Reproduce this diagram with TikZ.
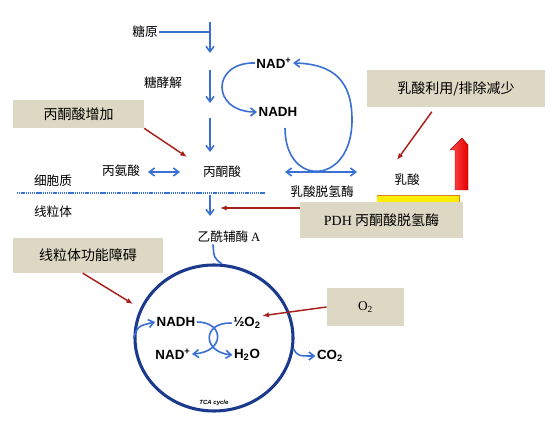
\documentclass[tikz,border=0pt]{standalone}
\usepackage{fontspec}
\setmainfont{Liberation Serif}
\newfontfamily\cjk{Noto Sans CJK SC}
\newfontfamily\arialf{Liberation Sans}
\usetikzlibrary{arrows.meta,shapes.geometric}
\definecolor{flowblue}{HTML}{3A6FD3}
\definecolor{cycleblue}{HTML}{1B3A8E}
\definecolor{hintred}{HTML}{A8201C}
\definecolor{notetan}{HTML}{DDD8C3}

\begin{document}
\begin{tikzpicture}[x=0.75pt,y=-0.75pt,
  lbl/.style={font=\cjk\fontsize{9.5}{10}\selectfont,inner sep=1pt},
  chem/.style={font=\arialf\bfseries\fontsize{10}{11}\selectfont,inner sep=1pt},
  note/.style={fill=notetan,font=\cjk\fontsize{10.5}{12}\selectfont,inner sep=2pt},
  flow/.style={draw=flowblue,line width=1.2pt,-{Straight Barb[length=4pt,width=6pt]}},
  hint/.style={draw=hintred,line width=1.1pt,-{Latex[length=5pt,width=4pt]}}]
\useasboundingbox (0,0) rectangle (554,424);
% cytosol
\node[lbl] (glycogen) at (145,32) {糖原};
\node[lbl] (glyco) at (163,83) {糖酵解};
\node[lbl] (pyr) at (222,172) {丙酮酸};
\node[lbl] (ala) at (121,171) {丙氨酸};
\node[lbl] (cyto) at (53,181) {细胞质};
\node[lbl] (mito) at (53,212) {线粒体};
\node[lbl] (accoa) at (229,237) {乙酰辅酶 \textrm{A}};
\node[lbl] (ldh) at (322,192) {乳酸脱氢酶};
\node[lbl] (lac) at (407,180) {乳酸};
\node[chem] (nadp) at (274,63) {NAD\textsuperscript{+}};
\node[chem] (nadh) at (278,112) {NADH};
% glycolysis chain
\foreach \n/\y in {0/22,1/53,2/70,3/103,4/118,5/152,6/195,7/216}
  \coordinate (c\n) at (210,\y);
\coordinate (gly) at (210,32);
\draw[flowblue,line width=1.2pt] (glycogen.east) -- (gly);
\draw[flow] (c0) -- (c1);
\draw[flow] (c2) -- (c3);
\draw[flow] (c4) -- (c5);
\draw[flow] (c6) -- (c7);
\draw[flow] (nadp.west) .. controls (211,62) and (211,112) .. (nadh.west);
\coordinate (loop0) at (285,128);
\draw[flow] (loop0) .. controls (285,188) and (352,186) .. (352,120)
  .. controls (352,82) and (335,64) .. (nadp.east);
\coordinate (ldhL) at (285,172);
\coordinate (ldhR) at (357,172);
\draw[flow,{Straight Barb[length=4pt,width=6pt]}-{Straight Barb[length=4pt,width=6pt]}] (ldhL) -- (ldhR);
\coordinate (ala1) at (148,172);
\coordinate (ala2) at (180,172);
\draw[flow,{Straight Barb[length=4pt,width=6pt]}-{Straight Barb[length=4pt,width=6pt]}] (ala1) -- (ala2);
% membrane
\draw[flowblue,line width=1.4pt,dash pattern=on 1pt off 0.6pt] (17,193) -- (265,193);
% lactate side
\fill[yellow!95!orange] (377,195) rectangle (459,203);
\draw[orange!50!brown,line width=0.7pt] (377,195) -- (459,195) -- (459,203);
\shade[left color=red!70,right color=red!90!black,draw=red!60!black,line width=0.3pt]
  (455,190) -- (455,150) -- (450,150) -- (462,138) -- (468,145) -- (468,190) -- cycle;
% notes
\node[note,minimum width=98pt,minimum height=21pt] (note1) at (78.5,114) {丙酮酸增加};
\node[note,minimum width=134pt,minimum height=28pt] (note2) at (456,88.5) {乳酸利用/排除减少};
\node[note,minimum width=122pt,minimum height=27pt] (note3) at (381.5,220) {\textrm{PDH} 丙酮酸脱氢酶};
\node[note,minimum width=112pt,minimum height=26pt] (note4) at (88,255.5) {线粒体功能障碍};
\node[note,minimum width=58pt,minimum height=28.5pt,font=\fontsize{10}{12}\selectfont] (note5) at (365.5,307) {O\textsubscript{2}};
% TCA cycle
\node[draw=cycleblue,line width=2.3pt,ellipse,minimum width=118.5pt,minimum height=109.5pt,inner sep=0pt] (tca) at (214,338) {};
\node[font=\arialf\bfseries\itshape\fontsize{4.5}{5}\selectfont] (tcalbl) at (214,403) {TCA cycle};
\node[chem] (nadh2) at (176,322) {NADH};
\node[chem] (nadp2) at (173,354) {NAD\textsuperscript{+}};
\node[chem] (half) at (247,323) {½O\textsubscript{2}};
\node[chem] (water) at (247,355) {H\textsubscript{2}O};
\node[chem] (co2) at (330,356) {CO\textsubscript{2}};
\draw[flowblue,line width=1.2pt] ([xshift=-12pt]accoa.south) .. controls (214,258) .. (tca.84);
\draw[flow] (tca.west) .. controls (138,326) .. (nadh2.west);
\draw[flow] (nadh2.east) .. controls (225,322) and (225,352) .. (nadp2.east);
\draw[flow] (half.west) .. controls (202,322) and (202,352) .. (water.west);
\draw[flow] (tca.-8) .. controls (298,356) .. (co2.west);
% hints
\coordinate (pyrtip) at (187,157);
\coordinate (lactip) at (397,160);
\coordinate (pdhtip) at (220,208);
\coordinate (tcatip) at (133,304);
\draw[hint] (note1.south east) -- (pyrtip);
\draw[hint,shorten <=4pt] ([xshift=-15.75pt]note2.south) -- (lactip);
\draw[hint] ([yshift=9pt]note3.west) -- (pdhtip);
\draw[hint] ([xshift=-4pt]note4.south) -- (tcatip);
\draw[hint] (note5.west) -- (half.north east);
\end{tikzpicture}
\end{document}
